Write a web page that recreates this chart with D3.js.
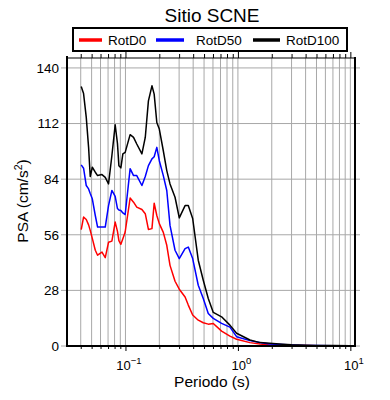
<!DOCTYPE html>
<html><head><meta charset="utf-8">
<script src="https://cdn.jsdelivr.net/npm/d3@7"></script>
<style>body{margin:0;background:#fff} svg{display:block;font-family:"Liberation Sans",Arial,sans-serif}</style>
</head><body><svg id="c" width="390" height="400"></svg>
<script>
const periods = [0.0404,0.0424,0.0448,0.047,0.0486,0.0507,0.0539,0.0565,0.0618,0.0661,0.0707,0.0757,0.081,0.0849,0.0874,0.091,0.0948,0.0994,0.11,0.118,0.126,0.14,0.15,0.16,0.172,0.18,0.19,0.2,0.217,0.233,0.249,0.276,0.301,0.339,0.362,0.396,0.444,0.492,0.545,0.604,0.716,0.849,0.973,1.28,1.57,1.92,2.5,3,4,5,7,10];
const rotD0 = [58.6,64.9,63.7,61,58.2,54.2,48.2,45.7,47.3,44.5,52.2,52.8,62.4,57.7,53,51.2,54,57.4,74.5,72.4,69.9,68.7,66.6,58.7,59.1,71.9,65.7,61.6,57.2,50.7,40.6,32.6,28.6,24.7,20.6,15.6,13.0,11.7,11.0,11.3,7.5,5.0,3.4,1.7,1.0,0.5,0.4,0.3,0.2,0.15,0.1,0.05];
const rotD50 = [91.2,89.5,80.8,79.1,76.8,74.1,65.7,59.9,59.9,59.9,70.7,78.3,75.3,69.2,68.5,68.2,67,66.2,89.3,85.8,85.8,80.8,85.3,90.8,94.2,95.3,100,93.3,85.8,78.3,60.7,48.2,44.0,49.0,49.8,44.0,30.6,23.9,16.4,13.9,11.4,9.5,4.7,2.7,1.75,1.0,0.7,0.5,0.3,0.2,0.15,0.1];
const rotD100 = [130.6,127.1,115.1,100,85.3,90,87.5,85.8,86.3,84.9,81.6,95.8,111.4,101.9,90.8,89.7,96.7,97.5,106.4,105,101.7,96.7,105,123.4,131,126.8,112.5,109.2,98.3,88.3,81.6,74.9,64.5,70.7,70.7,64.2,43.2,33.1,23.9,16.9,14.7,10.5,6.4,3.0,1.7,1.35,0.9,0.6,0.4,0.3,0.2,0.1];
const seriesNames = ["RotD0","RotD50","RotD100"];
const seriesColors = ["#ff0000","#0000ff","#000000"];
const yTicks = [0,28,56,84,112,140];
const xMajor = [0.1,1,10];
const xExponents = ["\u22121","0","1"];
const titleText = "Sitio SCNE";
const xLabel = "Periodo (s)";

const svg = d3.select("#c");
const L = 67, R = 355, T = 58, B = 346;
const x = d3.scaleLog().domain([0.0302, 11]).range([L, R]);
const y = d3.scaleLinear().domain([0, 145]).range([B, T]);

// minor ticks 
const xMinor = [];
[0.01,0.1,1].forEach(d => { for (let k=1;k<=9;k++){ const v=d*k; if (v>=0.0302 && v<=11) xMinor.push(v);} });
xMinor.push(10);

const grid = svg.append("g");
grid.selectAll("line.v").data(xMinor).join("line")
  .attr("x1", d=>x(d)).attr("x2", d=>x(d)).attr("y1", T).attr("y2", B)
  .attr("stroke", "#a8a8a8").attr("stroke-width", 1);
grid.selectAll("line.h").data(yTicks).join("line")
  .attr("x1", 61).attr("x2", 360).attr("y1", d=>y(d)).attr("y2", d=>y(d))
  .attr("stroke", "#a8a8a8").attr("stroke-width", 1);

// top ticks
svg.append("g").attr("transform", `translate(0,${T})`)
  .call(d3.axisTop(x).tickValues(xMinor).tickSizeInner(0).tickSizeOuter(0).tickFormat(""))
  .call(g => g.select(".domain").remove())
  .call(g => g.selectAll(".tick line").attr("y2", d => xMajor.includes(d) ? -6 : -4).attr("stroke","#000"));
// bottom ticks
svg.append("g").attr("transform", `translate(0,${B})`)
  .call(d3.axisBottom(x).tickValues(xMinor).tickSizeOuter(0).tickFormat(""))
  .call(g => g.select(".domain").remove())
  .call(g => g.selectAll(".tick line").attr("y2", d => xMajor.includes(d) ? 5 : 3).attr("stroke","#000"));

// x labels
const xa = svg.append("g").attr("transform", `translate(0,${B})`)
  .call(d3.axisBottom(x).tickValues(xMajor).tickSize(0).tickPadding(14).tickFormat(""));
xa.select(".domain").remove();
xa.selectAll(".tick").each(function(d,i){
  const t = d3.select(this).append("text").attr("y", 24).attr("text-anchor","middle")
    .attr("font-size", 13).attr("fill","#000").attr("dx", 3);
  t.append("tspan").text("10");
  t.append("tspan").attr("font-size", 9.5).attr("dy", -6).text(xExponents[i]);
});

// y axis labels
const ya = svg.append("g").attr("transform", `translate(${L},0)`)
  .call(d3.axisLeft(y).tickValues(yTicks).tickSize(0).tickPadding(8));
ya.select(".domain").remove();
ya.selectAll("text").attr("font-size", 13.5).attr("fill","#000").attr("font-family","Liberation Sans, Arial, sans-serif");

// curves
svg.append("clipPath").attr("id","clip").append("rect").attr("x",L).attr("y",T).attr("width",R-L).attr("height",B-T);
const line = d3.line().x((d,i)=>x(periods[i])).y(d=>y(d));
const series = [rotD0, rotD50, rotD100];
svg.append("g").attr("clip-path","url(#clip)").selectAll("path").data(series).join("path")
  .attr("d", line).attr("fill","none").attr("stroke",(d,i)=>seriesColors[i]).attr("stroke-width",1.5)
  .attr("stroke-linejoin","round");

// frame
svg.append("line").attr("x1",L).attr("x2",R).attr("y1",T).attr("y2",T).attr("stroke","#000").attr("stroke-width",1.2);
svg.append("path").attr("d",`M${L},${T-2}V${B}H${R}V${T-1}`).attr("fill","none").attr("stroke","#000").attr("stroke-width",2);

// title
svg.append("text").attr("x", 212).attr("y", 22).attr("text-anchor","middle").attr("font-size",19).text(titleText);

// legend
const lg = svg.append("g");
lg.append("rect").attr("x",73).attr("y",28).attr("width",274).attr("height",23).attr("fill","#fff").attr("stroke","#000").attr("stroke-width",2);
const legX = [[79,102,108],[156,184,196],[253,280,286]];
seriesNames.forEach((n,i)=>{
  lg.append("line").attr("x1",legX[i][0]).attr("x2",legX[i][1]).attr("y1",40).attr("y2",40).attr("stroke",seriesColors[i]).attr("stroke-width",3.5);
  lg.append("text").attr("x",legX[i][2]).attr("y",45).attr("font-size",13.5).text(n);
});

// axis titles
svg.append("text").attr("x", 212).attr("y", 387).attr("text-anchor","middle").attr("font-size",15.5).text(xLabel);
const yl = svg.append("text").attr("transform","translate(28,201) rotate(-90)").attr("text-anchor","middle").attr("font-size",15.5);
yl.append("tspan").text("PSA (cm/s");
yl.append("tspan").attr("font-size",10.5).attr("dy",-6).text("2");
yl.append("tspan").attr("dy",6).text(")");
</script></body></html>
